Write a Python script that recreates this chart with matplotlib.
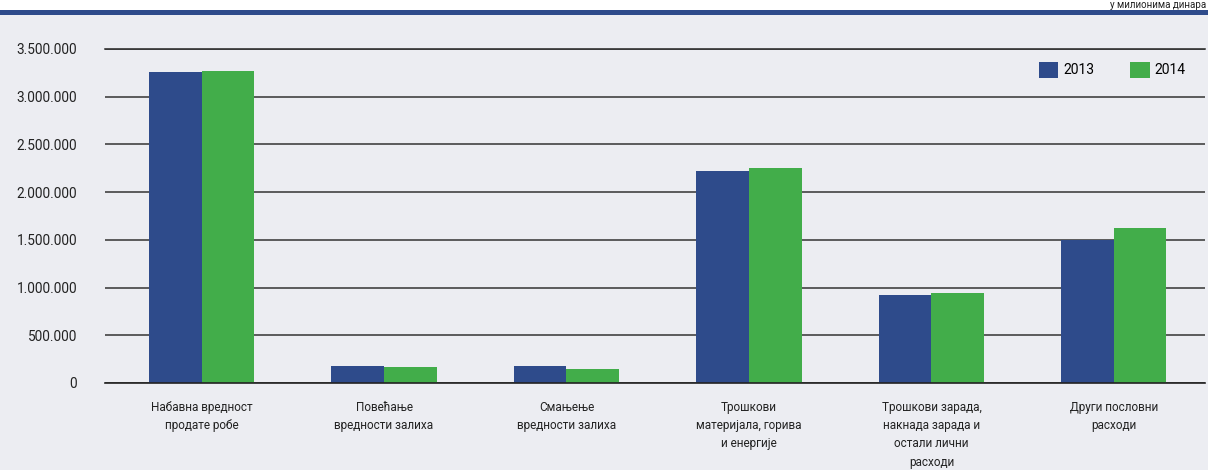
import matplotlib
matplotlib.use("Agg")
import matplotlib.pyplot as plt
import numpy as np
from matplotlib.ticker import FuncFormatter

categories = [
    "Набавна вредност\nпродате робе",
    "Повећање\nвредности залиха",
    "Смањење\nвредности залиха",
    "Трошкови\nматеријала, горива\nи енергије",
    "Трошкови зарада,\nнакнада зарада и\nостали лични\nрасходи",
    "Други пословни\nрасходи",
]
series_names = ["2013", "2014"]
values_2013 = [3259000, 178000, 178000, 2222000, 922000, 1499000]
values_2014 = [3270000, 168000, 147000, 2253000, 943000, 1624000]
yticks = [0, 500000, 1000000, 1500000, 2000000, 2500000, 3000000, 3500000]

BG = "#ECEDF2"
BLUE = "#2E4B8B"
GREEN = "#42AD4A"

plt.rcParams['font.family'] = ['Roboto', 'DejaVu Sans']

fig = plt.figure(figsize=(12.08, 4.70), dpi=100)
fig.patch.set_facecolor(BG)
fig.patches.append(plt.Rectangle((0, 1 - 10/470), 1, 10/470, transform=fig.transFigure,
                                 facecolor="white", edgecolor="none", zorder=0))
fig.patches.append(plt.Rectangle((0, 1 - 15/470), 1, 5/470, transform=fig.transFigure,
                                 facecolor=BLUE, edgecolor="none", zorder=1))
fig.text(1 - 2/1208, 1 - 0.5/470, "у милионима динара", ha="right", va="top", fontsize=7,
         color="#222222", zorder=2)

ax = fig.add_axes([105/1208, 1 - 383/470, 1100/1208, (383-49)/470])
ax.set_facecolor(BG)
x = np.arange(len(categories))
w = 0.288
ax.bar(x - w/2, values_2013, w, color=BLUE, label=series_names[0], zorder=3)
ax.bar(x + w/2, values_2014, w, color=GREEN, label=series_names[1], zorder=3)

ax.set_xlim(-0.529, 5.499)
ax.set_ylim(0, 3500000)
ax.set_yticks(yticks)
ax.yaxis.set_major_formatter(FuncFormatter(lambda v, p: f"{int(v):,}".replace(",", ".")))
ax.grid(axis="y", color="#333333", linewidth=1.1, zorder=0)
ax.axhline(0, color="#222222", linewidth=1.2, zorder=4, clip_on=False)
ax.axhline(3500000, color="#222222", linewidth=1.1, zorder=0, clip_on=False)
for s in ax.spines.values():
    s.set_visible(False)
ax.tick_params(axis="y", length=0, pad=20, labelsize=9.8, labelcolor="#222222")
ax.tick_params(axis="x", length=0, pad=13, labelsize=8.5, labelcolor="#222222")
ax.set_xticks(x)
ax.set_xticklabels(categories, linespacing=1.52)

leg = ax.legend(loc="upper left", bbox_to_anchor=((1040-105)/1100 - 0.001, 0.962), ncol=2,
                frameon=False, fontsize=10, handlelength=1.4, handleheight=1.4,
                columnspacing=2.6, handletextpad=0.35, borderpad=0, borderaxespad=0)

fig.savefig("out.png", dpi=100, facecolor=BG)
